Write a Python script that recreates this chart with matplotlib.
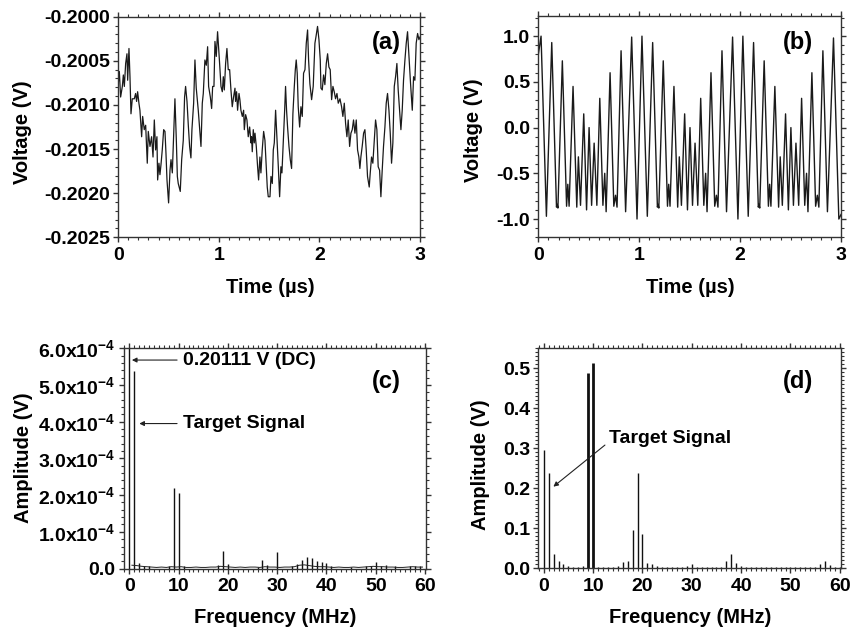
import numpy as np
import matplotlib
matplotlib.use('Agg')
import matplotlib.pyplot as plt
from matplotlib.ticker import MultipleLocator, FuncFormatter, FormatStrFormatter

# setup fonts (Arial-like bold everywhere)
plt.rcParams['font.family'] = ['Liberation Sans', 'DejaVu Sans']
plt.rcParams['font.weight'] = 'bold'
plt.rcParams['axes.labelweight'] = 'bold'
plt.rcParams['axes.unicode_minus'] = False
plt.rcParams['mathtext.fontset'] = 'custom'
plt.rcParams['mathtext.rm'] = 'Liberation Sans:bold'
plt.rcParams['mathtext.bf'] = 'Liberation Sans:bold'
plt.rcParams['mathtext.it'] = 'Liberation Sans:bold'

# ---- data: (a) measured voltage vs time
a_time = [0.000, 0.010, 0.023, 0.040, 0.050, 0.060, 0.073, 0.086, 0.093, 0.106, 0.116, 0.126, 0.139, 0.159,
          0.172, 0.182, 0.192, 0.205, 0.215, 0.232, 0.242, 0.258, 0.272, 0.288, 0.298, 0.315, 0.331, 0.345,
          0.358, 0.371, 0.384, 0.391, 0.404, 0.414, 0.424, 0.437, 0.451, 0.464, 0.474, 0.484, 0.500, 0.514,
          0.524, 0.537, 0.550, 0.563, 0.577, 0.587, 0.596, 0.616, 0.630, 0.646, 0.659, 0.669, 0.683, 0.696,
          0.709, 0.722, 0.732, 0.749, 0.762, 0.775, 0.795, 0.812, 0.822, 0.835, 0.845, 0.861, 0.875, 0.888,
          0.898, 0.915, 0.928, 0.938, 0.951, 0.961, 0.974, 0.987,
          1.004, 1.021, 1.034, 1.044, 1.054, 1.067, 1.080, 1.093, 1.107, 1.120, 1.133, 1.146, 1.160, 1.166,
          1.176, 1.186, 1.200, 1.209, 1.219, 1.233, 1.246, 1.253, 1.266, 1.279, 1.292, 1.306, 1.319, 1.325,
          1.332, 1.342, 1.352, 1.359, 1.372, 1.385, 1.395, 1.408, 1.418, 1.431, 1.445, 1.458, 1.468, 1.481,
          1.491, 1.508, 1.518, 1.531, 1.541, 1.551, 1.564, 1.577, 1.591, 1.604, 1.617, 1.627, 1.640, 1.654,
          1.663, 1.673, 1.683, 1.697, 1.710, 1.723, 1.736, 1.750, 1.760, 1.769, 1.779, 1.789, 1.803, 1.816,
          1.829, 1.842, 1.856, 1.869, 1.882, 1.892, 1.905, 1.922, 1.938, 1.955, 1.965,
          1.981, 1.995, 2.008, 2.015, 2.028, 2.041, 2.054, 2.068, 2.081, 2.094, 2.107, 2.121, 2.134, 2.147,
          2.160, 2.174, 2.187, 2.204, 2.220, 2.233, 2.247, 2.260, 2.273, 2.286, 2.300, 2.313, 2.326, 2.339,
          2.353, 2.366, 2.379, 2.392, 2.402, 2.412, 2.425, 2.439, 2.452, 2.465, 2.478, 2.495, 2.505, 2.518,
          2.531, 2.545, 2.558, 2.571, 2.584, 2.598, 2.611, 2.624, 2.637, 2.651, 2.664, 2.677, 2.691, 2.704,
          2.717, 2.730, 2.744, 2.757, 2.770, 2.783, 2.797, 2.810, 2.823, 2.836, 2.850, 2.863, 2.876, 2.890,
          2.906, 2.923, 2.936, 2.949, 2.962, 2.976, 2.989, 3.000]
a_volt = [-0.20075, -0.20062, -0.20091, -0.20079, -0.20066, -0.20079, -0.20053, -0.20042, -0.20072, -0.20036,
          -0.20068, -0.20110, -0.20093, -0.20093, -0.20087, -0.20096, -0.20085, -0.20098, -0.20106, -0.20136,
          -0.20113, -0.20128, -0.20123, -0.20166, -0.20130, -0.20147, -0.20136, -0.20159, -0.20117, -0.20151,
          -0.20136, -0.20185, -0.20166, -0.20179, -0.20168, -0.20151, -0.20128, -0.20130, -0.20155, -0.20185,
          -0.20211, -0.20174, -0.20162, -0.20177, -0.20136, -0.20093, -0.20140, -0.20181, -0.20189, -0.20198,
          -0.20162, -0.20140, -0.20091, -0.20079, -0.20096, -0.20123, -0.20147, -0.20160, -0.20128, -0.20098,
          -0.20049, -0.20081, -0.20106, -0.20132, -0.20147, -0.20098, -0.20087, -0.20049, -0.20055, -0.20034,
          -0.20079, -0.20091, -0.20104, -0.20079, -0.20079, -0.20028, -0.20045, -0.20017,
          -0.20047, -0.20079, -0.20085, -0.20068, -0.20083, -0.20053, -0.20036, -0.20060, -0.20060, -0.20083,
          -0.20102, -0.20091, -0.20081, -0.20096, -0.20085, -0.20106, -0.20087, -0.20094, -0.20106, -0.20113,
          -0.20106, -0.20128, -0.20111, -0.20117, -0.20136, -0.20125, -0.20143, -0.20136, -0.20153, -0.20128,
          -0.20143, -0.20132, -0.20147, -0.20170, -0.20185, -0.20159, -0.20177, -0.20151, -0.20130, -0.20140,
          -0.20162, -0.20193, -0.20204, -0.20204, -0.20181, -0.20189, -0.20151, -0.20143, -0.20106, -0.20136,
          -0.20170, -0.20204, -0.20170, -0.20177, -0.20143, -0.20106, -0.20079, -0.20106, -0.20125, -0.20147,
          -0.20162, -0.20172, -0.20110, -0.20079, -0.20060, -0.20049, -0.20064, -0.20102, -0.20125, -0.20102,
          -0.20113, -0.20064, -0.20060, -0.20030, -0.20015, -0.20049, -0.20076, -0.20094, -0.20079, -0.20030,
          -0.20023,
          -0.20011, -0.20026, -0.20049, -0.20081, -0.20083, -0.20066, -0.20077, -0.20053, -0.20042, -0.20057,
          -0.20060, -0.20094, -0.20079, -0.20085, -0.20093, -0.20087, -0.20098, -0.20093, -0.20102, -0.20113,
          -0.20098, -0.20121, -0.20136, -0.20117, -0.20147, -0.20132, -0.20128, -0.20117, -0.20132, -0.20117,
          -0.20151, -0.20159, -0.20172, -0.20159, -0.20147, -0.20132, -0.20128, -0.20151, -0.20181, -0.20193,
          -0.20177, -0.20159, -0.20166, -0.20140, -0.20117, -0.20128, -0.20170, -0.20174, -0.20204, -0.20174,
          -0.20147, -0.20125, -0.20098, -0.20087, -0.20106, -0.20132, -0.20166, -0.20143, -0.20079, -0.20068,
          -0.20053, -0.20083, -0.20106, -0.20128, -0.20106, -0.20072, -0.20049, -0.20030, -0.20017, -0.20045,
          -0.20076, -0.20106, -0.20068, -0.20072, -0.20030, -0.20019, -0.20026, -0.20023]

# ---- data: (b) voltage vs time (turning points)
b_time = [0.000, 0.027, 0.080, 0.133, 0.180, 0.187, 0.194, 0.238, 0.280, 0.292, 0.305, 0.344, 0.381, 0.397,
          0.418, 0.450, 0.478, 0.503, 0.528, 0.553, 0.580, 0.609, 0.640, 0.658, 0.672, 0.711, 0.748, 0.765,
          0.780, 0.820, 0.865, 0.925, 0.978,
          1.027, 1.080, 1.133, 1.180, 1.187, 1.194, 1.238, 1.280, 1.292, 1.305, 1.344, 1.381, 1.397,
          1.418, 1.450, 1.478, 1.503, 1.528, 1.553, 1.580, 1.609, 1.640, 1.658, 1.672, 1.711, 1.748, 1.765,
          1.780, 1.820, 1.865, 1.925, 1.978,
          2.027, 2.080, 2.133, 2.180, 2.187, 2.194, 2.238, 2.280, 2.292, 2.305, 2.344, 2.381, 2.397,
          2.418, 2.450, 2.478, 2.503, 2.528, 2.553, 2.580, 2.609, 2.640, 2.658, 2.672, 2.711, 2.748, 2.765,
          2.780, 2.820, 2.865, 2.925, 2.978, 3.000]
b_volt = [0.80, 1.00, -0.97, 0.93, -0.87, -0.84, -0.88, 0.73, -0.86, -0.62, -0.86, 0.45, -0.87, -0.32,
          -0.85, 0.15, -0.90, 0.00, -0.85, -0.17, -0.85, 0.32, -0.85, -0.50, -0.92, 0.60, -0.86, -0.74,
          -0.87, 0.84, -0.92, 0.99, -1.00,
          1.00, -0.97, 0.93, -0.87, -0.84, -0.88, 0.73, -0.86, -0.62, -0.86, 0.45, -0.87, -0.32,
          -0.85, 0.15, -0.90, 0.00, -0.85, -0.17, -0.85, 0.32, -0.85, -0.50, -0.92, 0.60, -0.86, -0.74,
          -0.87, 0.84, -0.92, 0.99, -1.00,
          1.00, -0.97, 0.93, -0.87, -0.84, -0.88, 0.73, -0.86, -0.62, -0.86, 0.45, -0.87, -0.32,
          -0.85, 0.15, -0.90, 0.00, -0.85, -0.17, -0.85, 0.32, -0.85, -0.50, -0.92, 0.60, -0.86, -0.74,
          -0.87, 0.84, -0.92, 0.98, -1.00, -0.95]

# ---- data: (c) spectrum of (a)
c_freq = [0, 1, 2, 3, 4, 8, 9, 10, 11, 18, 19, 20, 26, 27, 28, 30, 33, 34, 35, 36, 37, 38, 39, 40, 41,
          45, 48, 49, 50, 51, 52, 54, 57, 58, 59]
c_amp = [0.20111, 5.39e-4, 1.4e-5, 8e-6, 8e-6, 6e-6, 2.2e-4, 2.06e-4, 8e-6, 9e-6, 4.8e-5, 1.2e-5, 5e-6,
         2.3e-5, 1.0e-5, 4.6e-5, 6e-6, 1.1e-5, 2.3e-5, 3.2e-5, 3.0e-5, 2.1e-5, 1.7e-5, 1.5e-5, 6e-6,
         5e-6, 7e-6, 7e-6, 1.8e-5, 8e-6, 9e-6, 6e-6, 6e-6, 7e-6, 6e-6]
c_floor_freq = [0.5, 1.5, 2.5, 3.5, 4.5, 5.5, 6.5, 7.5, 8.5, 9.5, 10.5, 11.5, 12.5, 13.5, 14.5, 15.5, 16.5,
                17.5, 18.5, 19.5, 20.5, 21.5, 22.5, 23.5, 24.5, 25.5, 26.5, 27.5, 28.5, 29.5, 30.5, 31.5,
                32.5, 33.5, 34.5, 35.5, 36.5, 37.5, 38.5, 39.5, 40.5, 41.5, 42.5, 43.5, 44.5, 45.5, 46.5,
                47.5, 48.5, 49.5, 50.5, 51.5, 52.5, 53.5, 54.5, 55.5, 56.5, 57.5, 58.5, 59.5]
c_floor = [9e-6, 8e-6, 6e-6, 5e-6, 4e-6, 3e-6, 4e-6, 3e-6, 5e-6, 4e-6, 5e-6, 3e-6, 3e-6, 4e-6, 3e-6,
           3e-6, 4e-6, 4e-6, 6e-6, 5e-6, 4e-6, 3e-6, 4e-6, 3e-6, 4e-6, 4e-6, 3e-6, 5e-6, 4e-6, 4e-6,
           3e-6, 4e-6, 4e-6, 5e-6, 9e-6, 1.0e-5, 8e-6, 6e-6, 5e-6, 5e-6, 4e-6, 3e-6, 4e-6, 3e-6, 3e-6,
           4e-6, 3e-6, 4e-6, 5e-6, 6e-6, 5e-6, 5e-6, 4e-6, 4e-6, 3e-6, 3e-6, 4e-6, 5e-6, 4e-6, 4e-6]

# ---- data: (d) spectrum of (b), one line per MHz
d_freq = list(range(0, 61))
d_amp = [0.296, 0.239, 0.036, 0.019, 0.010, 0.005, 0.004, 0.004, 0.006, 0.489, 0.512, 0.004, 0.003,
         0.002, 0.003, 0.005, 0.015, 0.019, 0.096, 0.239, 0.086, 0.013, 0.010, 0.006, 0.002, 0.002,
         0.003, 0.002, 0.004, 0.006, 0.010, 0.003, 0.002, 0.003, 0.002, 0.003, 0.004, 0.018, 0.036,
         0.013, 0.005, 0.002, 0.002, 0.004, 0.002, 0.002, 0.002, 0.002, 0.002, 0.002, 0.002, 0.003,
         0.004, 0.004, 0.002, 0.002, 0.010, 0.018, 0.007, 0.003, 0.002]

TICK_FS = 14
LABEL_FS = 14.5
PANEL_FS = 17


def style_axes(ax):
    for sp in ax.spines.values():
        sp.set_linewidth(1.0)
        sp.set_color('#333333')
    ax.tick_params(which='both', direction='out', top=True, right=True,
                   labeltop=False, labelright=False, labelsize=TICK_FS, color='#333333')
    ax.tick_params(which='major', length=3.5, width=1.0)
    ax.tick_params(which='minor', length=2, width=0.8)
    ax.tick_params(axis='x', pad=3.5)
    ax.tick_params(axis='y', pad=2.5)
    for lab in ax.get_xticklabels() + ax.get_yticklabels():
        lab.set_fontweight('bold')


# setup the figure
fig = plt.figure(figsize=(8.53, 6.31), dpi=100)

axA = fig.add_axes([0.1387, 0.6239, 0.3537, 0.3496])
axB = fig.add_axes([0.6311, 0.6239, 0.3549, 0.3507])
axC = fig.add_axes([0.1448, 0.0990, 0.3546, 0.3490])
axD = fig.add_axes([0.6311, 0.0994, 0.3546, 0.3487])

# (a)
axA.plot(a_time, a_volt, color='#1a1a1a', lw=0.9)
axA.set_xlim(0, 3)
axA.set_ylim(-0.2025, -0.2000)
axA.xaxis.set_major_locator(MultipleLocator(1))
axA.xaxis.set_minor_locator(MultipleLocator(0.1))
axA.yaxis.set_major_locator(MultipleLocator(0.0005))
axA.yaxis.set_minor_locator(MultipleLocator(0.0001))
axA.yaxis.set_major_formatter(FormatStrFormatter('%.4f'))
axA.set_xlabel('Time (\u00b5s)', fontsize=LABEL_FS)
axA.set_ylabel('Voltage (V)', fontsize=LABEL_FS)
axA.xaxis.set_label_coords(0.503, -0.186)
axA.yaxis.set_label_coords(-0.287, 0.475)
axA.text(0.89, 0.882, '(a)', transform=axA.transAxes, fontsize=PANEL_FS,
         fontweight='bold', ha='center', va='center')

# (b)
axB.plot(b_time, b_volt, color='#1a1a1a', lw=1.0)
axB.set_xlim(0, 3)
axB.set_ylim(-1.2, 1.22)
axB.xaxis.set_major_locator(MultipleLocator(1))
axB.xaxis.set_minor_locator(MultipleLocator(0.1))
axB.yaxis.set_major_locator(MultipleLocator(0.5))
axB.yaxis.set_minor_locator(MultipleLocator(0.1))
axB.yaxis.set_major_formatter(FormatStrFormatter('%.1f'))
axB.set_xlabel('Time (\u00b5s)', fontsize=LABEL_FS)
axB.set_ylabel('Voltage (V)', fontsize=LABEL_FS)
axB.xaxis.set_label_coords(0.501, -0.186)
axB.yaxis.set_label_coords(-0.182, 0.485)
axB.text(0.859, 0.879, '(b)', transform=axB.transAxes, fontsize=PANEL_FS,
         fontweight='bold', ha='center', va='center')


def sci4(v, pos):
    if abs(v) < 1e-12:
        return '0.0'
    return '%.1fx10$^{-4}$' % (v * 1e4)


# (c)
axC.vlines(c_freq, 0, c_amp, color='#111111', lw=1.0)
axC.plot(c_floor_freq, c_floor, color='#222222', lw=0.7)
axC.set_xlim(-1.2, 60.2)
axC.set_ylim(0, 6e-4)
axC.xaxis.set_major_locator(MultipleLocator(10))
axC.xaxis.set_minor_locator(MultipleLocator(1))
axC.yaxis.set_major_locator(MultipleLocator(1e-4))
axC.yaxis.set_minor_locator(MultipleLocator(2e-5))
axC.yaxis.set_major_formatter(FuncFormatter(sci4))
axC.set_xlabel('Frequency (MHz)', fontsize=LABEL_FS)
axC.set_ylabel('Amplitude (V)', fontsize=LABEL_FS)
axC.xaxis.set_label_coords(0.501, -0.181)
axC.yaxis.set_label_coords(-0.298, 0.505)
axC.text(0.87, 0.848, '(c)', transform=axC.transAxes, fontsize=PANEL_FS,
         fontweight='bold', ha='center', va='center')
axC.annotate('0.20111 V (DC)', xy=(0.5, 5.68e-4), xytext=(10.8, 5.68e-4),
             fontsize=14, fontweight='bold', va='center', ha='left',
             arrowprops=dict(arrowstyle='-|>', color='#222222', lw=0.8,
                             mutation_scale=7, shrinkA=2, shrinkB=0))
axC.annotate('Target Signal', xy=(2.0, 3.95e-4), xytext=(10.8, 3.95e-4),
             fontsize=14, fontweight='bold', va='center', ha='left',
             arrowprops=dict(arrowstyle='-|>', color='#222222', lw=0.8,
                             mutation_scale=7, shrinkA=2, shrinkB=0))

# (d)
d_lw = [2.0 if v > 0.4 else 1.0 for v in d_amp]
axD.vlines(d_freq, 0, d_amp, color='#111111', lw=d_lw)
axD.set_xlim(-1.1, 60.2)
axD.set_ylim(0, 0.55)
axD.xaxis.set_major_locator(MultipleLocator(10))
axD.xaxis.set_minor_locator(MultipleLocator(1))
axD.yaxis.set_major_locator(MultipleLocator(0.1))
axD.yaxis.set_minor_locator(MultipleLocator(0.01))
axD.yaxis.set_major_formatter(FormatStrFormatter('%.1f'))
axD.set_xlabel('Frequency (MHz)', fontsize=LABEL_FS)
axD.set_ylabel('Amplitude (V)', fontsize=LABEL_FS)
axD.xaxis.set_label_coords(0.503, -0.181)
axD.yaxis.set_label_coords(-0.160, 0.47)
axD.text(0.859, 0.848, '(d)', transform=axD.transAxes, fontsize=PANEL_FS,
         fontweight='bold', ha='center', va='center')
axD.annotate('', xy=(1.95, 0.204), xytext=(12.4, 0.308),
             arrowprops=dict(arrowstyle='-|>', color='#222222', lw=0.8,
                             mutation_scale=7, shrinkA=0, shrinkB=0))
axD.text(13.3, 0.325, 'Target Signal', fontsize=14, fontweight='bold',
         va='center', ha='left')

for ax in (axA, axB, axC, axD):
    style_axes(ax)

# save the plot
plt.savefig('out.png', dpi=100)
